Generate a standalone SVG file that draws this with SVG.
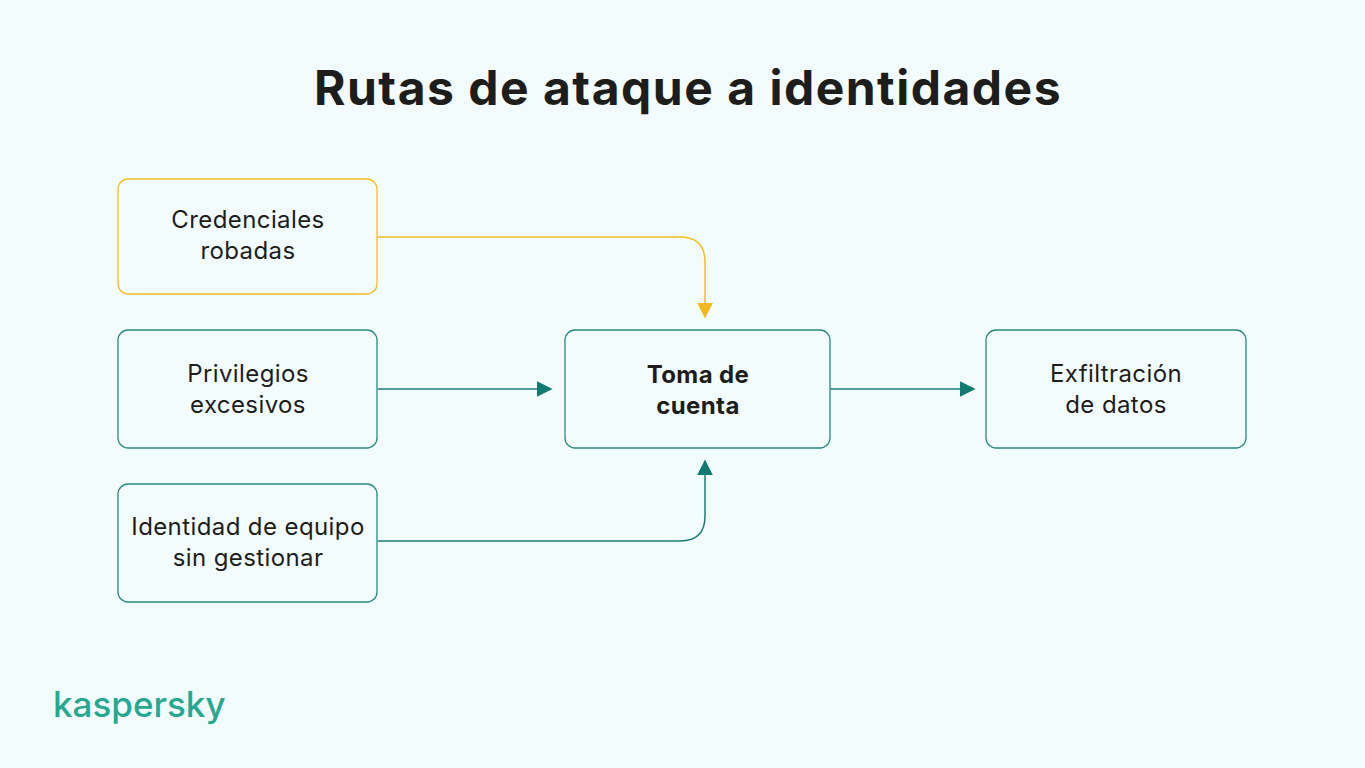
<svg xmlns="http://www.w3.org/2000/svg" width="1365" height="768" viewBox="0 0 1365 768">
<style>
.box{fill:none;stroke:#2a8a80;stroke-width:1.3}
.y{stroke:#f4bd25}
.t{font-family:Inter,"Noto Sans",sans-serif;font-size:24px;letter-spacing:0.4px;fill:#1d1d1b;text-anchor:middle}
.b{font-weight:700}
.c{fill:none;stroke:#1c7f78;stroke-width:1.5}
</style>
<defs>
<marker id="ag" viewBox="0 0 10 10" refX="9" refY="5" markerWidth="16" markerHeight="16" markerUnits="userSpaceOnUse" orient="auto"><path d="M0,0L10,5L0,10z" fill="#137a72"/></marker>
<marker id="ay" viewBox="0 0 10 10" refX="9" refY="5" markerWidth="16" markerHeight="16" markerUnits="userSpaceOnUse" orient="auto"><path d="M0,0L10,5L0,10z" fill="#f4b81c"/></marker>
</defs>
<rect width="1365" height="768" fill="#f3fcfd"/>
<text x="688" y="105" font-family="Inter,'Noto Sans',sans-serif" font-size="48" font-weight="700" letter-spacing="1.5" fill="#1d1d1b" text-anchor="middle">Rutas de ataque a identidades</text>
<g id="connectors">
<path class="c" d="M378,237H680Q705,237 705,262V317" style="stroke:#f4bd25" marker-end="url(#ay)"/>
<path class="c" d="M378,389H551" marker-end="url(#ag)"/>
<path class="c" d="M830,389H974" marker-end="url(#ag)"/>
<path class="c" d="M378,541H680Q705,541 705,516V461" marker-end="url(#ag)"/>
</g>
<g id="n1"><rect class="box y" x="118" y="179" width="259" height="115" rx="10"/><text class="t" x="248" y="228">Credenciales</text><text class="t" x="248" y="259">robadas</text></g>
<g id="n2"><rect class="box" x="118" y="330" width="259" height="118" rx="10"/><text class="t" x="248" y="382">Privilegios</text><text class="t" x="248" y="413">excesivos</text></g>
<g id="n3"><rect class="box" x="118" y="484" width="259" height="118" rx="10"/><text class="t" x="248" y="535">Identidad de equipo</text><text class="t" x="248" y="566">sin gestionar</text></g>
<g id="n4"><rect class="box" x="565" y="330" width="265" height="118" rx="10"/><text class="t b" x="698" y="383">Toma de</text><text class="t b" x="698" y="414">cuenta</text></g>
<g id="n5"><rect class="box" x="986" y="330" width="260" height="118" rx="10"/><text class="t" x="1116" y="382">Exfiltración</text><text class="t" x="1116" y="413">de datos</text></g>
<text x="53" y="717" font-family="Inter,'Noto Sans',sans-serif" font-size="35" font-weight="500" fill="#27a890">kaspersky</text>
</svg>
